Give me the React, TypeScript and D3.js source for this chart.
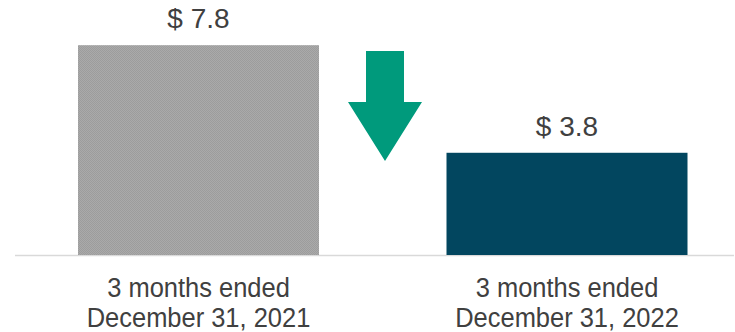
import React from "react";
import * as d3 from "d3";

const categories = ["3 months ended|December 31, 2021", "3 months ended|December 31, 2022"];
const values = [7.8, 3.8];
const valueLabels = ["$ 7.8", "$ 3.8"];

const W = 735;
const H = 332;

export default function App() {
  const x = d3
    .scaleBand<string>()
    .domain(categories)
    .range([14.25, 751.25])
    .paddingInner(0.346)
    .paddingOuter(0.173);
  const y = d3.scaleLinear().domain([0, 8]).range([255, 39.8]);

  const fills = ["url(#grayPat)", "#02465f"];

  // arrow between bars
  const ax = 385;
  const arrowPath = d3.path();
  arrowPath.moveTo(ax - 19, 51);
  arrowPath.lineTo(ax + 19, 51);
  arrowPath.lineTo(ax + 19, 102);
  arrowPath.lineTo(ax + 37, 102);
  arrowPath.lineTo(ax, 161);
  arrowPath.lineTo(ax - 37, 102);
  arrowPath.lineTo(ax - 19, 102);
  arrowPath.closePath();

  return (
    <svg
      width={W}
      height={H}
      style={{ position: "absolute", left: 0, top: 0, fontFamily: "'Liberation Sans', Arial, sans-serif" }}
    >
      <defs>
        <pattern id="grayPat" width="2" height="2" patternUnits="userSpaceOnUse">
          <rect width="2" height="2" fill="#aaaaaa" />
          <rect width="1" height="1" fill="#9c9c9c" />
          <rect x="1" y="1" width="1" height="1" fill="#9c9c9c" />
        </pattern>
      </defs>
      <line x1={15} x2={734} y1={255.5} y2={255.5} stroke="#d9d9d9" strokeWidth={1.5} />
      {categories.map((c, i) => {
        const cx = (x(c) as number) + x.bandwidth() / 2;
        return (
          <g key={c}>
            <rect
              x={x(c)}
              y={y(values[i])}
              width={x.bandwidth()}
              height={y(0) - y(values[i])}
              fill={fills[i]}
            />
            <text
              x={cx}
              y={y(values[i]) - 17}
              textAnchor="middle"
              fontSize={28}
              fill="#404040"
            >
              {valueLabels[i]}
            </text>
            {c.split("|").map((line, j) => (
              <text
                key={j}
                transform={`translate(${cx},${297 + j * 30}) scale(0.91,1)`}
                textAnchor="middle"
                fontSize={28}
                fill="#404040"
              >
                {line}
              </text>
            ))}
          </g>
        );
      })}
      <path d={arrowPath.toString()} fill="#009a7c" />
    </svg>
  );
}
